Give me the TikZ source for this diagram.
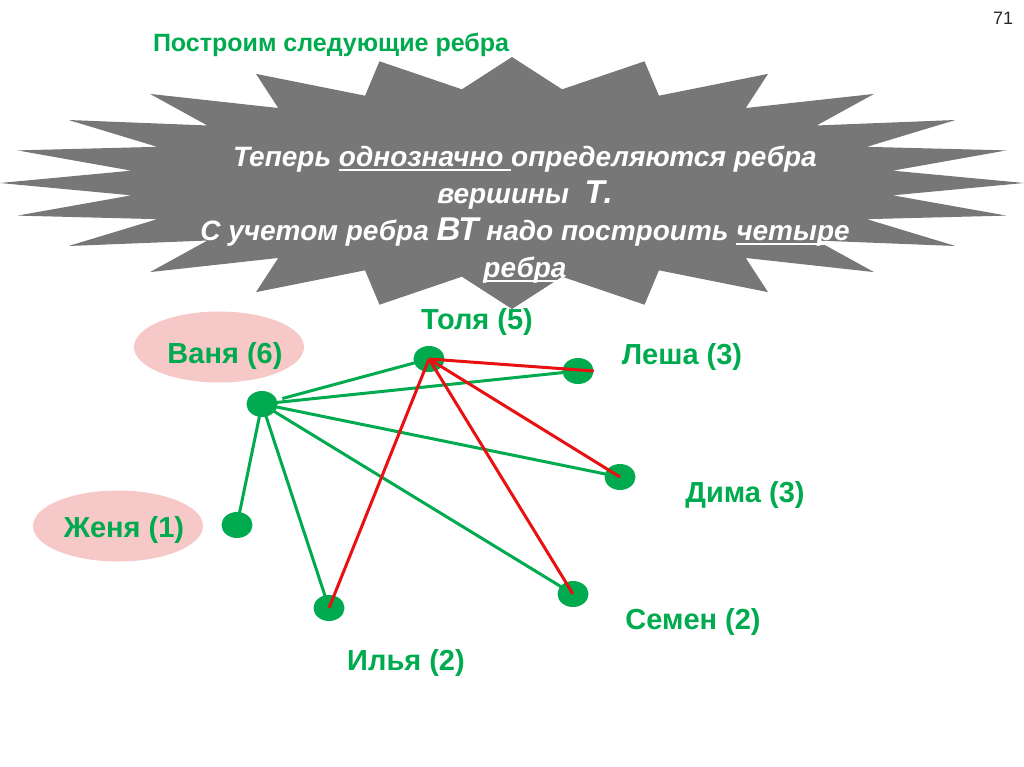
\documentclass[tikz,border=0pt]{standalone}
\usepackage{fontspec}
\setmainfont{Liberation Sans}
\usetikzlibrary{positioning}
\usetikzlibrary{shapes.geometric}

\definecolor{nodegreen}{RGB}{0,170,78}
\definecolor{edgered}{RGB}{232,16,16}
\definecolor{ovalpink}{RGB}{246,200,200}
\definecolor{burstgray}{RGB}{119,119,119}

\newcommand{\undl}[1]{\setbox0\hbox{#1}\rlap{\rule[-4pt]{\wd0}{2pt}}\box0}

\tikzset{
	vertex/.style={ellipse,fill=nodegreen,minimum width=31pt,minimum height=26pt,inner sep=0pt},
	person/.style={text=nodegreen,font=\bfseries\fontsize{29}{34}\selectfont},
	oval/.style={ellipse,fill=ovalpink,minimum width=170pt,minimum height=71pt,inner sep=0pt},
	greenedge/.style={nodegreen,line width=3pt},
	rededge/.style={edgered,line width=3pt},
	bursttext/.style={align=center,text=white,font=\bfseries\itshape\fontsize{28}{37}\selectfont}
}

\begin{document}
\begin{tikzpicture}[x=1pt,y=-1pt]
	
	\useasboundingbox (0,0) rectangle (1024,767);
	
	\node [text=black!85] (pagenum) at (1003,18) {\fontsize{18}{20}\selectfont 71};
	
	\node [text=nodegreen,font=\bfseries\fontsize{25}{30}\selectfont] (title) at (331,45) {Построим следующие ребра};
	
	% the 24-point burst
	\fill [burstgray] plot [samples at={0,...,47},variable=\k]
	({512+512*cos(7.5*\k)*(1-0.25*mod(\k,2))},{183+126*sin(7.5*\k)*(1-0.25*mod(\k,2))}) -- cycle;
	
	\node [bursttext] (burst) at (525,215) {Теперь \undl{однозначно }определяются ребра\\
		вершины\ \ {\fontsize{33}{33}\selectfont Т.}\\
		С учетом ребра {\fontsize{33}{33}\selectfont ВТ} надо построить \undl{четыре}\\
		\undl{ребра}};
	
	\node [oval] (vanyaoval) at (219,347) {};
	
	\node [oval] (zhenyaoval) at (118,526) {};
	
	\node [person] (vanyalabel) at (225,356) {Ваня (6)};
	
	\node [person] (tolyalabel) at (477,322) {Толя (5)};
	
	\node [person] (leshalabel) at (682,357) {Леша (3)};
	
	\node [person] (dimalabel) at (745,495) {Дима (3)};
	
	\node [person] (zhenyalabel) at (124,530) {Женя (1)};
	
	\node [person] (ilyalabel) at (406,663) {Илья (2)};
	
	\node [person] (semenlabel) at (693,622) {Семен (2)};
	
	\node [vertex] (vanya) at (262,404) {};
	\node [vertex] (tolya) at (429,359) {};
	\node [vertex] (lesha) at (578,371) {};
	\node [vertex] (dima) at (620,477) {};
	\node [vertex] (zhenya) at (237,525) {};
	\node [vertex] (ilya) at (329,608) {};
	\node [vertex] (semen) at (573,594) {};
	
	\draw [greenedge,shorten <=21pt] (vanya.center) -- (tolya.center);
	\draw [greenedge] (vanya.center) -- (lesha.center);
	\draw [greenedge] (vanya.center) -- (dima.center);
	\draw [greenedge] (vanya.center) -- (semen.center);
	\draw [greenedge] (vanya.center) -- (ilya.center);
	\draw [greenedge] (vanya.center) -- (zhenya.center);
	
	\draw [rededge] (tolya.center) -- (lesha.east);
	\draw [rededge] (tolya.center) -- (dima.center);
	\draw [rededge] (tolya.center) -- (semen.center);
	\draw [rededge] (tolya.center) -- (ilya.center);
	
\end{tikzpicture}
\end{document}
